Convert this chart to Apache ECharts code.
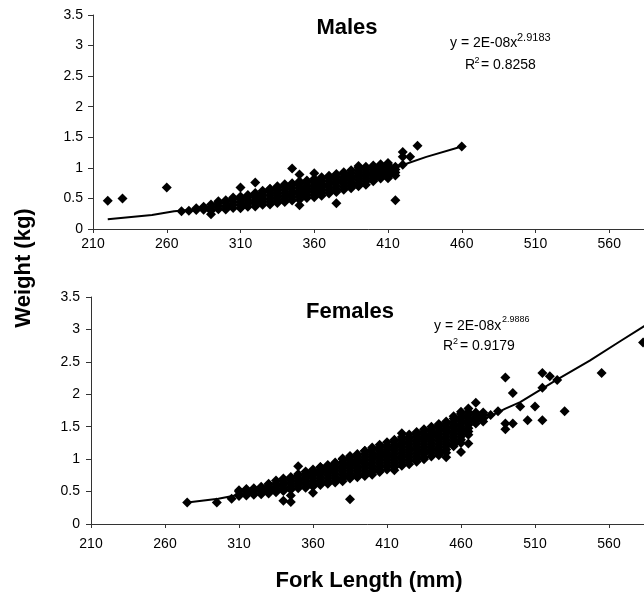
<!DOCTYPE html>
<html>
<head>
<meta charset="utf-8">
<script src="https://cdn.jsdelivr.net/npm/echarts@6/dist/echarts.min.js"></script>
<style>
html,body{margin:0;padding:0;background:#fff;overflow:hidden;}
#chart{width:644px;height:601px;}
</style>
</head>
<body>
<div id="chart"></div>
<script>
// Fork length (mm) -> list of weights (kg)
const maleFish = [
 [220,[0.46]],[230,[0.50]],[260,[0.68]],
 [270,[0.29]],[275,[0.30]],[280,[0.31,0.34]],[285,[0.315,0.365]],
 [290,[0.24,0.30,0.35,0.40]],[295,[0.325,0.375,0.425,0.455]],[300,[0.32,0.37,0.42,0.47]],[305,[0.345,0.395,0.445,0.495,0.515]],
 [310,[0.34,0.39,0.44,0.49,0.53,0.68]],[315,[0.365,0.415,0.465,0.515,0.555]],[320,[0.37,0.42,0.47,0.52,0.57,0.59,0.76]],[325,[0.395,0.445,0.495,0.545,0.595,0.625]],
 [330,[0.40,0.45,0.50,0.55,0.60,0.65,0.66]],[335,[0.425,0.475,0.525,0.575,0.625,0.675,0.70]],[340,[0.44,0.49,0.54,0.59,0.64,0.69,0.73]],[345,[0.465,0.515,0.565,0.615,0.665,0.715,0.75,0.99]],
 [350,[0.39,0.48,0.53,0.58,0.63,0.68,0.73,0.78,0.89]],[355,[0.505,0.555,0.605,0.655,0.705,0.755,0.795]],[360,[0.52,0.57,0.62,0.67,0.72,0.77,0.82,0.91]],[365,[0.545,0.595,0.645,0.695,0.745,0.795,0.845]],
 [370,[0.58,0.63,0.68,0.73,0.78,0.83,0.87]],[375,[0.42,0.605,0.655,0.705,0.755,0.805,0.855,0.90]],[380,[0.64,0.69,0.74,0.79,0.84,0.89,0.93]],[385,[0.665,0.715,0.765,0.815,0.865,0.915,0.96]],
 [390,[0.70,0.75,0.80,0.85,0.90,0.95,1.00,1.03]],[395,[0.725,0.775,0.825,0.875,0.925,0.975,1.02]],[400,[0.78,0.80,0.85,0.90,0.95,1.00,1.04]],[405,[0.825,0.875,0.925,0.975,1.025,1.06]],
 [410,[0.83,0.85,0.90,0.95,1.00,1.05,1.08]],[415,[0.47,0.875,0.925,0.975,1.02]],[420,[1.05,1.18,1.26]],[425,[1.18]],[430,[1.36]],[460,[1.35]]
];
const femaleFish = [
 [275,[0.33]],[295,[0.33]],[305,[0.39]],
 [310,[0.43,0.45,0.50,0.52]],[315,[0.44,0.475,0.525,0.54]],[320,[0.45,0.50,0.55]],[325,[0.46,0.475,0.525,0.575]],
 [330,[0.47,0.50,0.55,0.60,0.62]],[335,[0.49,0.525,0.575,0.625,0.67]],[340,[0.36,0.51,0.55,0.60,0.65,0.70]],[345,[0.34,0.44,0.53,0.575,0.625,0.675,0.725]],
 [350,[0.55,0.60,0.65,0.70,0.75,0.77,0.89]],[355,[0.56,0.575,0.625,0.675,0.725,0.775,0.81]],[360,[0.48,0.58,0.60,0.65,0.70,0.75,0.80,0.84]],[365,[0.60,0.625,0.675,0.725,0.775,0.825,0.875,0.88]],
 [370,[0.62,0.65,0.70,0.75,0.80,0.85,0.90,0.91]],[375,[0.64,0.675,0.725,0.775,0.825,0.875,0.925,0.95]],[380,[0.66,0.70,0.75,0.80,0.85,0.90,0.95,1.00,1.01]],[385,[0.38,0.70,0.725,0.775,0.825,0.875,0.925,0.975,1.025,1.05]],
 [390,[0.72,0.75,0.80,0.85,0.90,0.95,1.00,1.05,1.08]],[395,[0.74,0.775,0.825,0.875,0.925,0.975,1.025,1.075,1.125,1.13]],[400,[0.76,0.80,0.85,0.90,0.95,1.00,1.05,1.10,1.15,1.18]],[405,[0.80,0.825,0.875,0.925,0.975,1.025,1.075,1.125,1.175,1.22]],
 [410,[0.84,0.90,0.95,1.00,1.05,1.10,1.15,1.20,1.26]],[415,[0.83,0.875,0.925,0.975,1.025,1.075,1.125,1.175,1.225,1.275,1.30]],[420,[0.90,0.95,1.00,1.05,1.10,1.15,1.20,1.25,1.30,1.34,1.40]],[425,[0.92,0.975,1.025,1.075,1.125,1.175,1.225,1.275,1.325,1.38]],
 [430,[0.96,1.00,1.05,1.10,1.15,1.20,1.25,1.30,1.35,1.40,1.42]],[435,[1.00,1.025,1.075,1.125,1.175,1.225,1.275,1.325,1.375,1.425,1.46]],[440,[1.04,1.10,1.15,1.20,1.25,1.30,1.35,1.40,1.45,1.50]],[445,[1.06,1.075,1.125,1.175,1.225,1.275,1.325,1.375,1.425,1.475,1.525,1.54]],
 [450,[1.03,1.10,1.15,1.20,1.25,1.30,1.35,1.40,1.45,1.50,1.55,1.58]],[455,[1.20,1.225,1.275,1.325,1.375,1.425,1.475,1.525,1.575,1.625,1.66]],[460,[1.11,1.25,1.30,1.35,1.40,1.45,1.50,1.55,1.60,1.65,1.70,1.73]],[465,[1.24,1.375,1.425,1.475,1.525,1.575,1.625,1.675,1.725,1.78]],
 [470,[1.55,1.60,1.65,1.70,1.72,1.87]],[475,[1.58,1.625,1.675,1.72]],[480,[1.68]],[485,[1.74]],
 [490,[1.46,1.55,2.26]],[495,[1.55,2.02]],[500,[1.81]],[505,[1.60]],[510,[1.81]],
 [515,[1.60,2.10,2.33]],[520,[2.28]],[525,[2.22]],[530,[1.74]],[555,[2.33]],[583,[2.80]]
];
// trend lines
const maleTrend = [[220,0.16],[250,0.23],[265,0.29],[280,0.32],[300,0.37],[320,0.45],[340,0.55],[360,0.67],[380,0.80],[400,0.92],[418,1.03],[436,1.18],[460,1.35]];
const femaleTrend = [[275,0.33],[296,0.39],[310,0.45],[330,0.55],[350,0.67],[370,0.82],[390,0.97],[410,1.13],[430,1.30],[450,1.47],[465,1.58],[479,1.65],[490,1.78],[500,1.88],[513,2.06],[524,2.215],[547,2.52],[567,2.81],[583,3.04],[600,3.28],[610,3.42]];
// axis settings
const xMin = 210, xMax = 610, xStep = 50;
const yMin = 0, yMax = 3.5, yStep = 0.5;
const titles = ['Males', 'Females'];
const equations = [
  {main:'y = 2E-08x', sup:'2.9183', r:'0.8258'},
  {main:'y = 2E-08x', sup:'2.9886', r:'0.9179'}
];

function flatten(cols){ const out=[]; cols.forEach(c=>c[1].forEach(w=>out.push([c[0],w]))); return out; }

const FONT = 'Liberation Sans, Arial, sans-serif';
const axisColor = '#333';
function xAxisCfg(gi, margin){
  return {type:'value', gridIndex:gi, min:xMin, max:xMax, interval:xStep,
    axisLine:{show:true, onZero:false, lineStyle:{color:axisColor, width:1}},
    axisTick:{show:true, inside:false, length:4, lineStyle:{color:axisColor}},
    axisLabel:{color:'#000', fontSize:14, fontFamily:FONT, margin:margin},
    splitLine:{show:false}};
}
function yAxisCfg(gi, margin){
  return {type:'value', gridIndex:gi, min:yMin, max:yMax, interval:yStep,
    axisLine:{show:true, lineStyle:{color:axisColor, width:1}},
    axisTick:{show:true, inside:false, length:5, lineStyle:{color:axisColor}},
    axisLabel:{color:'#000', fontSize:14, fontFamily:FONT, margin:margin},
    splitLine:{show:false}};
}
function txt(x,y,text,size,opts){
  opts = opts||{};
  return {type:'text', x:x, y:y, rotation:opts.rot||0, silent:true,
    style:{text:text, fill:'#000', font:(opts.bold?'bold ':'')+size+'px '+FONT,
      align:opts.align||'left', verticalAlign:'middle', textAlign:opts.align||'left', textVerticalAlign:'middle'}};
}

const chart = echarts.init(document.getElementById('chart'), null, {renderer:'canvas'});
const option = {
  animation:false,
  backgroundColor:'#fff',
  grid:[
    {left:93, top:15, width:590, height:214, containLabel:false, outerBoundsMode:'none'},
    {left:91, top:297, width:592, height:227, containLabel:false, outerBoundsMode:'none'}
  ],
  xAxis:[xAxisCfg(0,8), xAxisCfg(1,13)],
  yAxis:[yAxisCfg(0,10), yAxisCfg(1,11)],
  series:[
    {type:'scatter', xAxisIndex:0, yAxisIndex:0, data:flatten(maleFish), symbol:'diamond', symbolSize:10, itemStyle:{color:'#000', opacity:1}, clip:true},
    {type:'line', xAxisIndex:0, yAxisIndex:0, data:maleTrend, showSymbol:false, symbol:'none', lineStyle:{color:'#000', width:2}, z:3},
    {type:'scatter', xAxisIndex:1, yAxisIndex:1, data:flatten(femaleFish), symbol:'diamond', symbolSize:10, itemStyle:{color:'#000', opacity:1}, clip:true},
    {type:'line', xAxisIndex:1, yAxisIndex:1, data:femaleTrend, showSymbol:false, symbol:'none', lineStyle:{color:'#000', width:2}, z:3}
  ],
  graphic:[
    txt(347,28,titles[0],22,{bold:true,align:'center'}),
    txt(350,312,titles[1],22,{bold:true,align:'center'}),
    txt(450,43,equations[0].main,14),
    txt(517,38,equations[0].sup,11),
    txt(465,65,'R',14),
    txt(474.5,61,'2',9),
    txt(481,65,'= '+equations[0].r,14),
    txt(434,326,equations[1].main,14),
    txt(502,320,equations[1].sup,9),
    txt(443,346.5,'R',14),
    txt(453,342,'2',9),
    txt(460,346.5,'= '+equations[1].r,14),
    txt(24,268,'Weight (kg)',22,{bold:true,align:'center',rot:Math.PI/2}),
    txt(369,581,'Fork Length (mm)',22,{bold:true,align:'center'})
  ]
};
chart.setOption(option);
</script>
</body>
</html>
